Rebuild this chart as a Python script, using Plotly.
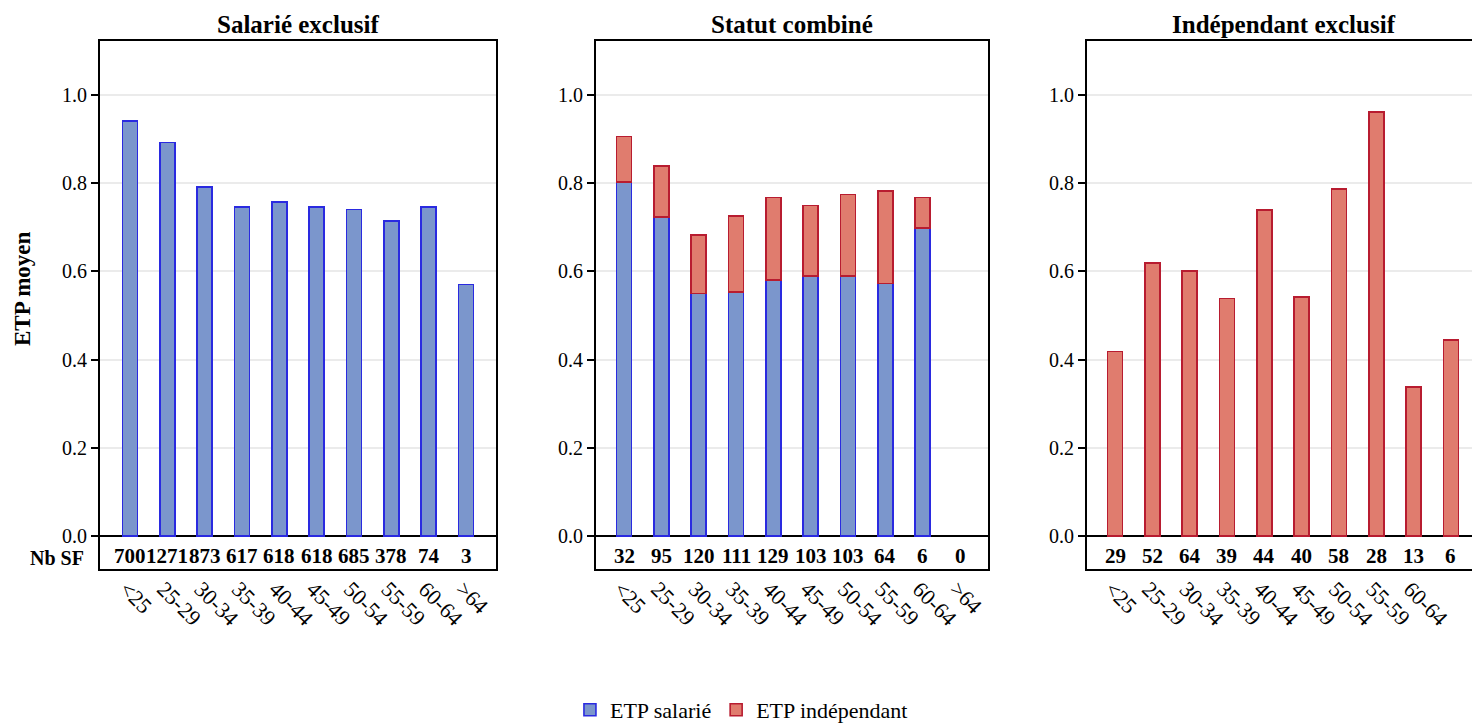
import plotly.graph_objects as go

# Age groups and panel titles
age_groups = ["<25", "25-29", "30-34", "35-39", "40-44", "45-49", "50-54", "55-59", "60-64", ">64"]
panel_titles = ["Salarié exclusif", "Statut combiné", "Indépendant exclusif"]

# Mean FTE by age group
etp_salarie_exclusif = [0.941, 0.892, 0.791, 0.746, 0.758, 0.746, 0.740, 0.714, 0.746, 0.570]
etp_combine_salarie = [0.803, 0.723, 0.550, 0.553, 0.581, 0.590, 0.589, 0.573, 0.699, 0.0]
etp_combine_independant = [0.103, 0.116, 0.132, 0.173, 0.187, 0.159, 0.185, 0.209, 0.069, 0.0]
etp_independant_exclusif = [0.418, 0.619, 0.601, 0.539, 0.739, 0.542, 0.787, 0.961, 0.338, 0.445]

# Number of midwives (Nb SF) per age group
nb_sf_salarie = [700, 1271, 873, 617, 618, 618, 685, 378, 74, 3]
nb_sf_combine = [32, 95, 120, 111, 129, 103, 103, 64, 6, 0]
nb_sf_independant = [29, 52, 64, 39, 44, 40, 58, 28, 13, 6]

W, H = 1472, 725
FONT = "Liberation Serif"
BLUE_FILL, BLUE_EDGE = "#7b96cc", "#2a2ae0"
RED_FILL, RED_EDGE = "#e07c6e", "#b81c30"

x_pos = list(range(len(age_groups)))
bar_w = 0.4
label_shift = 0.1   # rotated labels start a little left of each bar

fig = go.Figure()

def bar(y, fill, edge, name, xa, ya, legend):
    # empty groups are left blank rather than drawn as a flat outline
    y = [v if v else None for v in y]
    return go.Bar(
        x=x_pos, y=y, width=bar_w, name=name,
        marker=dict(color=fill, line=dict(color=edge, width=1.6)),
        xaxis=xa, yaxis=ya, showlegend=legend, legendgroup=name,
    )

fig.add_trace(bar(etp_salarie_exclusif, BLUE_FILL, BLUE_EDGE, "ETP salarié", "x", "y", True))
fig.add_trace(bar(etp_combine_salarie, BLUE_FILL, BLUE_EDGE, "ETP salarié", "x2", "y2", False))
fig.add_trace(bar(etp_combine_independant, RED_FILL, RED_EDGE, "ETP indépendant", "x2", "y2", True))
fig.add_trace(bar(etp_independant_exclusif, RED_FILL, RED_EDGE, "ETP indépendant", "x3", "y3", False))

# Panel geometry (pixels)
panels = [
    dict(left=100, right=496, xr=[-0.8, 9.8], mirror_y=True),
    dict(left=596, right=988, xr=[-0.75, 9.75], mirror_y=True),
    dict(left=1087, right=W, xr=[-0.75, 9.563], mirror_y=False),
]
y_top_px, y_bot_px = 41, 569
y_range = [-0.0748, 1.1224]
y_domain = [(H - y_bot_px) / H, (H - y_top_px) / H]

layout = dict(
    width=W, height=H, autosize=False,
    margin=dict(l=0, r=0, t=0, b=0, autoexpand=False),
    paper_bgcolor="white", plot_bgcolor="white",
    barmode="stack",
    font=dict(family=FONT, size=21, color="black"),
    showlegend=True,
    legend=dict(orientation="h", x=0.5037, xanchor="center", y=(H - 710) / H, yanchor="middle",
                font=dict(family=FONT, size=22), itemwidth=30, tracegroupgap=0,
                traceorder="normal"),
)

for i, p in enumerate(panels):
    sfx = "" if i == 0 else str(i + 1)
    dom = [p["left"] / W, min(p["right"] / W, 1.0)]
    layout["xaxis" + sfx] = dict(
        domain=dom, range=p["xr"], anchor="y" + sfx,
        showticklabels=False, ticks="",
        showline=True, mirror=True, linecolor="black", linewidth=2,
        showgrid=False, zeroline=False, automargin=False, fixedrange=True,
    )
    # companion axis carrying the rotated age-group labels
    layout["xaxis" + str(i + 4)] = dict(
        domain=dom, range=p["xr"], anchor="y" + sfx, overlaying="x" + sfx, side="bottom",
        tickmode="array", tickvals=[v - label_shift for v in x_pos], ticktext=age_groups,
        tickangle=45, tickfont=dict(family=FONT, size=22), ticks="", ticklabelstandoff=2,
        showline=False, showgrid=False, zeroline=False, automargin=False, fixedrange=True,
    )
    layout["yaxis" + sfx] = dict(
        domain=y_domain, range=y_range, anchor="x" + sfx,
        tickmode="array", tickvals=[0, 0.2, 0.4, 0.6, 0.8, 1.0], tickformat=".1f",
        tickfont=dict(family=FONT, size=20),
        ticks="outside", ticklen=7, tickwidth=1.5, tickcolor="black",
        showline=True, mirror=p["mirror_y"], linecolor="black", linewidth=2,
        showgrid=True, gridcolor="#ebebeb", gridwidth=1.5,
        zeroline=True, zerolinecolor="black", zerolinewidth=1.5,
        automargin=False, fixedrange=True,
    )

fig.update_layout(**layout)

# invisible traces so the label axes are drawn
for i in range(3):
    fig.add_trace(go.Scatter(x=[None], y=[None], xaxis="x" + str(i + 4),
                             yaxis="y" if i == 0 else "y" + str(i + 1),
                             showlegend=False, hoverinfo="skip"))

annotations = []
# Panel titles
for i, (p, t) in enumerate(zip(panels, panel_titles)):
    right = p["right"] if i < 2 else 1481
    annotations.append(dict(
        text="<b>" + t + "</b>", x=(p["left"] + right) / 2 / W, y=(H - 24) / H,
        xref="paper", yref="paper", showarrow=False, xanchor="center", yanchor="middle",
        font=dict(family=FONT, size=25),
    ))

# Counts row inside each frame
for i, counts in enumerate([nb_sf_salarie, nb_sf_combine, nb_sf_independant]):
    sfx = "" if i == 0 else str(i + 1)
    for xp, n in zip(x_pos, counts):
        annotations.append(dict(
            text="<b>%d</b>" % n, x=xp, y=-0.046, xref="x" + sfx, yref="y" + sfx,
            showarrow=False, xanchor="center", yanchor="middle",
            font=dict(family=FONT, size=21),
        ))

annotations.append(dict(
    text="<b>Nb SF</b>", x=86 / W, y=(H - 558) / H, xref="paper", yref="paper",
    showarrow=False, xanchor="right", yanchor="middle", font=dict(family=FONT, size=20),
))
annotations.append(dict(
    text="<b>ETP moyen</b>", x=22 / W, y=(H - 289) / H, xref="paper", yref="paper",
    showarrow=False, xanchor="center", yanchor="middle", textangle=-90,
    font=dict(family=FONT, size=23),
))

fig.update_layout(annotations=annotations)
fig.write_html("out.html")
